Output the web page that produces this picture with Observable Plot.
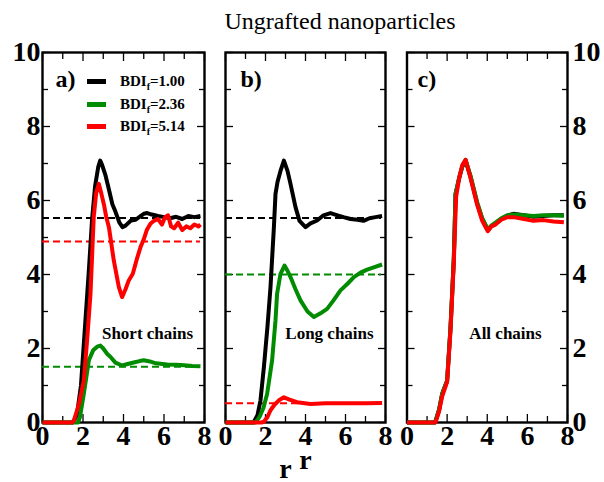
<!DOCTYPE html>
<html><head><meta charset="utf-8">
<script src="https://cdn.jsdelivr.net/npm/d3@7"></script>
<script src="https://cdn.jsdelivr.net/npm/@observablehq/plot@0.6"></script>
<style>
body{margin:0;background:#fff;}
#wrap{position:relative;width:604px;height:482px;overflow:hidden;font-family:"Liberation Serif","Times New Roman",serif;color:#000;}
#wrap svg{position:absolute;left:0;top:0;}
.title{position:absolute;top:9px;left:140px;width:400px;text-align:center;font-size:24px;line-height:24px;white-space:nowrap;}
.lg-line{position:absolute;height:5px;width:19px;}
.lg-text{position:absolute;font-size:15px;line-height:15px;font-weight:bold;white-space:nowrap;}
.lg-text sub{font-size:10px;vertical-align:-4px;line-height:0;}
</style></head><body><div id="wrap"></div>
<script>
// ---------------- data ----------------
const titleText = "Ungrafted nanoparticles";
const bdiValues = ["1.00", "2.36", "5.14"];
const seriesColors = ["#000000", "#008b00", "#ff0000"];
const panelTags = ["a)", "b)", "c)"];
const panelNotes = ["Short chains", "Long chains", "All chains"];
const xMajor = [0, 2, 4, 6, 8];
const xMinor = [1, 3, 5, 7];
const yMajor = [0, 2, 4, 6, 8, 10];
const yMinor = [1, 3, 5, 7, 9];
const axisTitle = "r";
const meanRange = [0, 7.8];

// panel a: short chains  [r, g(r)]
const shortBlack = [[0,0],[1.5,0],[1.7,0.2],[1.9,1.0],[2.1,2.6],[2.3,4.2],[2.45,5.5],[2.6,6.4],[2.75,6.9],[2.85,7.08],[2.95,6.95],[3.1,6.7],[3.28,6.3],[3.45,5.9],[3.6,5.7],[3.8,5.4],[3.95,5.28],[4.1,5.32],[4.37,5.46],[4.6,5.48],[4.84,5.58],[5.0,5.64],[5.17,5.66],[5.4,5.62],[5.7,5.58],[6.0,5.55],[6.3,5.52],[6.6,5.56],[6.9,5.5],[7.2,5.58],[7.5,5.55],[7.8,5.58]];
const shortGreen = [[0,0],[1.75,0],[1.85,0.15],[2.04,0.77],[2.29,1.68],[2.5,1.95],[2.7,2.05],[2.86,2.08],[3.0,2.0],[3.2,1.85],[3.36,1.77],[3.6,1.62],[3.93,1.54],[4.2,1.58],[4.5,1.62],[4.8,1.66],[5.0,1.68],[5.3,1.65],[5.6,1.6],[6.16,1.57],[6.6,1.56],[7.0,1.55],[7.4,1.53],[7.8,1.52]];
const shortRed = [[0,0],[1.45,0],[1.55,0.05],[1.8,0.5],[2.04,1.13],[2.2,2.2],[2.37,3.48],[2.53,5.55],[2.65,6.2],[2.78,6.45],[2.9,6.2],[3.03,5.9],[3.15,5.55],[3.28,5.28],[3.52,4.38],[3.77,3.66],[3.93,3.39],[4.1,3.6],[4.26,3.84],[4.46,4.02],[4.65,4.4],[4.84,4.74],[5.0,4.95],[5.15,5.2],[5.33,5.37],[5.5,5.45],[5.7,5.5],[5.9,5.35],[6.05,5.55],[6.2,5.6],[6.35,5.3],[6.5,5.25],[6.7,5.4],[6.9,5.2],[7.1,5.3],[7.3,5.25],[7.5,5.35],[7.7,5.3],[7.8,5.35]];
const shortMeans = [5.53, 1.51, 4.89];

// panel b: long chains
const longBlack = [[0,0],[1.4,0],[1.6,0.2],[1.75,0.6],[1.92,1.5],[2.1,2.6],[2.25,3.66],[2.42,5.28],[2.5,6.18],[2.6,6.5],[2.75,6.8],[2.92,7.08],[3.1,6.8],[3.25,6.45],[3.5,5.82],[3.7,5.45],[4.0,5.28],[4.25,5.38],[4.58,5.46],[4.9,5.6],[5.25,5.66],[5.6,5.6],[5.9,5.55],[6.25,5.5],[6.6,5.48],[6.9,5.45],[7.2,5.52],[7.5,5.55],[7.83,5.58]];
const longGreen = [[0,0],[1.5,0],[1.7,0.15],[1.9,0.4],[2.08,0.77],[2.33,1.68],[2.5,2.76],[2.58,3.48],[2.75,4.02],[2.95,4.24],[3.1,4.1],[3.25,3.93],[3.5,3.6],[3.75,3.3],[4.1,3.0],[4.42,2.85],[4.75,2.95],[5.08,3.07],[5.4,3.3],[5.75,3.57],[6.1,3.75],[6.42,3.93],[6.75,4.05],[7.08,4.13],[7.45,4.2],[7.83,4.27]];
const longRed = [[0,0],[1.8,0],[1.92,0.02],[2.1,0.15],[2.25,0.33],[2.45,0.48],[2.67,0.6],[2.92,0.68],[3.2,0.62],[3.58,0.55],[4.25,0.5],[5.0,0.52],[6.0,0.52],[7.0,0.52],[7.83,0.53]];
const longMeans = [5.53, 4.0, 0.52];

// panel c: all chains
const allBlack = [[0,0],[1.4,0],[1.6,0.35],[1.75,0.77],[2.0,1.13],[2.17,2.58],[2.33,4.38],[2.42,6.18],[2.6,6.6],[2.75,6.9],[2.92,7.08],[3.17,6.63],[3.5,5.91],[3.75,5.5],[4.03,5.19],[4.2,5.3],[4.41,5.37],[4.7,5.5],[5.0,5.59],[5.3,5.64],[5.83,5.6],[6.3,5.56],[6.8,5.58],[7.3,5.6],[7.82,5.6]];
const allGreen = [[0,0],[1.4,0],[1.6,0.35],[1.75,0.77],[2.0,1.13],[2.17,2.58],[2.33,4.38],[2.42,6.18],[2.6,6.62],[2.75,6.92],[2.92,7.1],[3.17,6.66],[3.5,5.95],[3.75,5.52],[4.03,5.22],[4.2,5.32],[4.41,5.4],[4.7,5.52],[5.0,5.6],[5.3,5.62],[5.83,5.6],[6.3,5.58],[6.8,5.6],[7.3,5.6],[7.82,5.59]];
const allRed = [[0,0],[1.42,0],[1.6,0.3],[1.75,0.7],[2.0,1.1],[2.17,2.5],[2.33,4.3],[2.45,6.1],[2.6,6.6],[2.75,6.95],[2.92,7.1],[3.17,6.6],[3.5,5.88],[3.75,5.45],[4.03,5.17],[4.2,5.3],[4.41,5.35],[4.7,5.48],[5.0,5.55],[5.3,5.55],[5.83,5.5],[6.3,5.45],[6.8,5.47],[7.3,5.43],[7.82,5.41]];

// ---------------- drawing ----------------
const W = 604, H = 482, TOP = 52, BOTTOM = 422;
const bold = {fontFamily: "Liberation Serif", fontWeight: "bold"};

function panel({left, right, series, means, tag, tagDx, note, noteDx, yLeft, yRight, extra = []}) {
  const marks = [Plot.frame({stroke: "#000", strokeWidth: 2.4})];
  for (const anchor of ["bottom", "top"]) {
    marks.push(Plot.axisX(xMajor, {anchor, tickSize: -8, fill: "none", strokeWidth: 1.3, label: null}));
    marks.push(Plot.axisX(xMinor, {anchor, tickSize: -6, fill: "none", strokeWidth: 1.3, label: null}));
  }
  for (const anchor of ["left", "right"]) {
    marks.push(Plot.axisY(yMajor, {anchor, tickSize: -8, fill: "none", strokeWidth: 1.3, label: null}));
    marks.push(Plot.axisY(yMinor, {anchor, tickSize: -6, fill: "none", strokeWidth: 1.3, label: null}));
  }
  marks.push(Plot.axisX(xMajor, {anchor: "bottom", tickSize: 0, tickPadding: 3, stroke: "none", fontSize: 28, ...bold, label: null}));
  if (yLeft) marks.push(Plot.axisY(yMajor, {anchor: "left", tickSize: 0, tickPadding: 2, stroke: "none", fontSize: 28, ...bold, label: null}));
  if (yRight) marks.push(Plot.axisY(yMajor, {anchor: "right", tickSize: 0, tickPadding: 5, stroke: "none", fontSize: 28, ...bold, label: null}));
  if (means) means.forEach((m, i) => {
    marks.push(Plot.ruleY([m], {y: d => d, x1: meanRange[0], x2: meanRange[1], stroke: seriesColors[i], strokeWidth: 2, strokeDasharray: "7,4"}));
  });
  series.forEach((s, i) => {
    marks.push(Plot.line(s, {x: d => d[0], y: d => d[1], stroke: seriesColors[i], strokeWidth: 4, strokeLinejoin: "round", strokeLinecap: "butt"}));
  });
  marks.push(Plot.text([tag], {frameAnchor: "top-left", dx: tagDx, dy: 27, textAnchor: "start", lineAnchor: "middle", fontSize: 24, ...bold}));
  marks.push(Plot.text([note], {frameAnchor: "top-left", dx: noteDx, dy: 281, textAnchor: "middle", lineAnchor: "middle", fontSize: 17, ...bold}));
  marks.push(...extra);
  return Plot.plot({
    width: W, height: H,
    marginLeft: left, marginRight: W - right, marginTop: TOP, marginBottom: H - BOTTOM,
    x: {domain: [0, 8], axis: null},
    y: {domain: [0, 10], axis: null},
    style: {background: "transparent", overflow: "visible", fontFamily: "Liberation Serif", color: "#000"},
    marks
  });
}

const wrap = document.getElementById("wrap");
const title = document.createElement("div");
title.className = "title";
title.textContent = titleText;
wrap.appendChild(title);

wrap.appendChild(panel({left: 42, right: 204, series: [shortBlack, shortGreen, shortRed], means: shortMeans,
  tag: panelTags[0], tagDx: 13, note: panelNotes[0], noteDx: 105, yLeft: true}));
wrap.appendChild(panel({left: 225, right: 385, series: [longBlack, longGreen, longRed], means: longMeans,
  tag: panelTags[1], tagDx: 15, note: panelNotes[1], noteDx: 104,
  extra: [
    Plot.text([axisTitle], {frameAnchor: "bottom-left", dx: 80, dy: 46, textAnchor: "middle", lineAnchor: "bottom", fontSize: 28, ...bold}),
    Plot.text([axisTitle], {frameAnchor: "bottom-left", dx: 60, dy: 55, textAnchor: "middle", lineAnchor: "bottom", fontSize: 28, ...bold})
  ]}));
wrap.appendChild(panel({left: 406.5, right: 567, series: [allBlack, allGreen, allRed], means: null,
  tag: panelTags[2], tagDx: 10.5, note: panelNotes[2], noteDx: 98.5, yRight: true}));

// legend (panel a)
const legendTop = 81.7, legendStep = 22.5;
bdiValues.forEach((v, i) => {
  const ln = document.createElement("div");
  ln.className = "lg-line";
  ln.style.left = "87px";
  ln.style.top = (legendTop + i * legendStep - 2.5) + "px";
  ln.style.background = seriesColors[i];
  wrap.appendChild(ln);
  const tx = document.createElement("div");
  tx.className = "lg-text";
  tx.style.left = "120px";
  tx.style.top = (legendTop + i * legendStep - 7.5) + "px";
  tx.innerHTML = "BDI<sub>f</sub>=" + v;
  wrap.appendChild(tx);
});
</script></body></html>
